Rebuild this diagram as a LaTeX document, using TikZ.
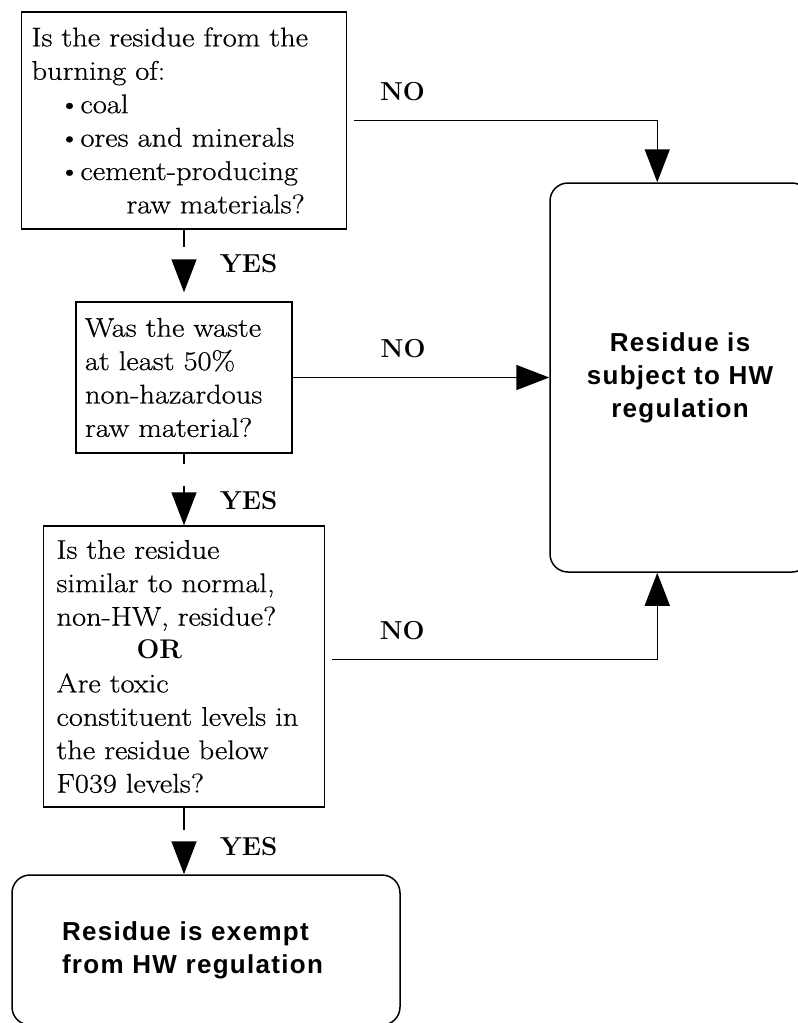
\documentclass[tikz,border=0pt]{standalone}
\usepackage{fontspec}
\setmainfont{Latin Modern Roman}[FakeStretch=1.13, FakeBold=0.6]
\newfontfamily\lblfont{Latin Modern Roman}
\newfontfamily\resfont{Liberation Sans}[LetterSpace=5]
\usepackage{tikz}
\usetikzlibrary{arrows.meta}

\begin{document}
\begin{tikzpicture}[x=1pt, y=-1pt, line width=1.5pt,
    font=\fontsize{27}{33.4}\selectfont,
    question/.style={draw, rectangle, inner sep=0pt, align=left},
    result/.style={draw, rectangle, rounded corners=18pt, inner sep=0pt,
        font=\resfont\bfseries\fontsize{26}{33}\selectfont},
    tip/.style={-{Triangle[length=33pt, width=25pt]}},
    yesline/.style={tip, dash pattern=#1},
    nolbl/.style={font=\lblfont\bfseries\fontsize{26}{30}\selectfont,
        anchor=base, yshift=20pt, inner sep=0pt},
    yeslbl/.style={font=\lblfont\bfseries\fontsize{26}{30}\selectfont,
        anchor=base west, xshift=35pt, inner sep=0pt}]
    \useasboundingbox (0, 0) rectangle (798, 1023);

    \node[question, minimum width=325, minimum height=217, text width=305] (d1) at (184, 120.5)
        {Is the residue from the\\
         burning of:\\
         \hspace*{27pt}\textbullet coal\\
         \hspace*{27pt}\textbullet ores and minerals\\
         \hspace*{27pt}\textbullet cement-producing\\
         \hspace*{95pt}raw materials?};
    \node[question, minimum width=216, minimum height=151, text width=198] (d2) at (184, 377.5)
        {Was the waste\\ at least 50\%\\ non-hazardous\\ raw material?};
    \node[question, minimum width=281, minimum height=281, text width=255] (d3) at (184, 666.5)
        {Is the residue\\ similar to normal,\\ non-HW, residue?\\
         \hspace*{80pt}{\lblfont\bfseries OR}\\
         Are toxic\\ constituent levels in\\ the residue below\\ F039 levels?};
    \node[result, minimum width=260, minimum height=389, align=center] (r1) at (680, 377.5)
        {Residue is\\ subject to HW\\ regulation};
    \node[result, minimum width=388, minimum height=150, text width=288, align=left] (r2) at (206, 950)
        {Residue is exempt\\ from HW regulation};

    \draw (d1.south) edge[yesline={on 17pt off 13pt on 200pt}, shorten >=9pt]
                node[yeslbl, pos=0.6] {YES} (d2.north)
          (d2.south) edge[yesline={on 10pt off 22pt on 200pt}]
                node[yeslbl, pos=0.78] {YES} (d3.north)
          (d3.south) edge[yesline={on 22pt off 14pt on 200pt}]
                node[yeslbl, pos=0.72] {YES} (d3.south |- r2.north)
          (d2) edge[tip] node[nolbl, pos=0.43] {NO} (r1);
    \draw[tip, shorten <=7pt] (d1.east) -| node[nolbl, pos=0.089] {NO}
          ([xshift=108pt]r1.north west);
    \draw[tip, shorten <=7pt] ([yshift=7pt]d3.east) -| node[nolbl, pos=0.116] {NO}
          ([xshift=108pt]r1.south west);
\end{tikzpicture}
\end{document}
